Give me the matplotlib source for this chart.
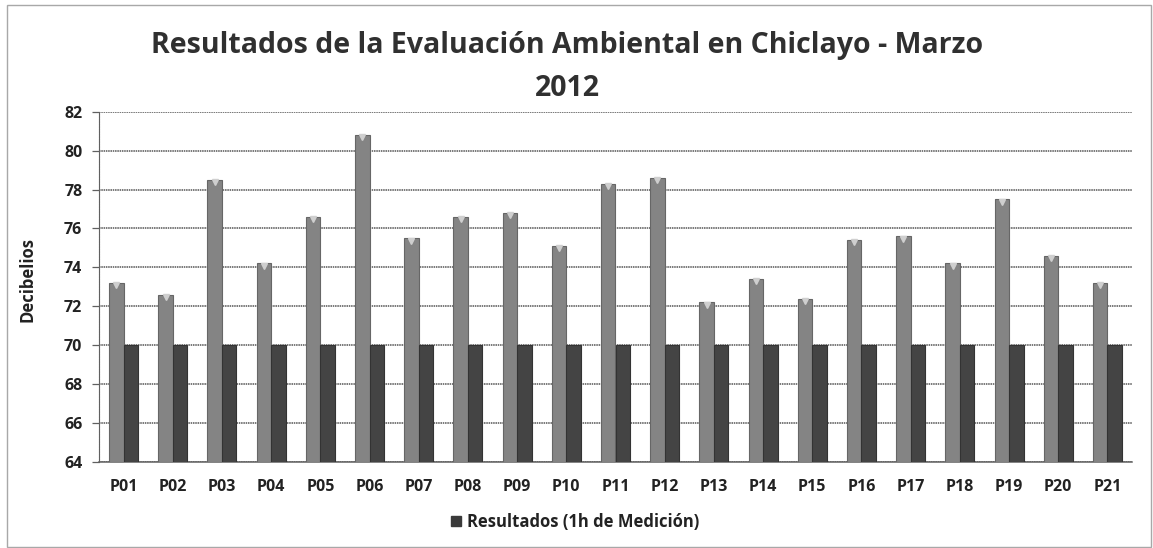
import matplotlib
matplotlib.use("Agg")
import matplotlib.pyplot as plt
import matplotlib.patches as patches
import numpy as np

# ---------- data ----------
puntos = ["P%02d" % i for i in range(1, 22)]
resultados = [73.2, 72.6, 78.5, 74.2, 76.6, 80.8, 75.5, 76.6, 76.8, 75.1, 78.3,
              78.6, 72.2, 73.4, 72.4, 75.4, 75.6, 74.2, 77.5, 74.6, 73.2]
limite = [70] * 21
y_ticks = [64, 66, 68, 70, 72, 74, 76, 78, 80, 82]

plt.rcParams["font.family"] = ["Open Sans", "DejaVu Sans"]

W, H = 1153, 548
fig = plt.figure(figsize=(W / 100, H / 100), dpi=100, facecolor="white")
ax = fig.add_axes([99 / W, (H - 462) / H, (1132 - 99) / W, (462 - 111.7) / H])

x = np.arange(len(puntos))
bw = 0.295
light = "#848484"
dark = "#444444"
ax.bar(x - bw / 2, [r - 64 for r in resultados], bw, bottom=64, color=light,
       edgecolor="#666666", linewidth=0.8, zorder=3, label="Resultados (1h de Medición)")
ax.bar(x + bw / 2, [l - 64 for l in limite], bw, bottom=64, color=dark,
       edgecolor="#333333", linewidth=0.8, zorder=3)

# light cap on the top of each result bar (3D look)
for xi, r in zip(x, resultados):
    ax.plot(xi - bw / 2, r - 0.12, marker="v", ms=4, color="#cfcfcf", zorder=4)

ax.set_xlim(-0.5, len(puntos) - 0.5)
ax.set_ylim(64, 82)
ax.set_yticks(y_ticks)
ax.set_xticks(x)
ax.set_xticklabels(puntos, fontsize=11.5, fontweight="bold", color="#222222")
ax.tick_params(axis="x", length=0, pad=12)
ax.tick_params(axis="y", length=5, width=0.9, color="#606060", pad=7,
               labelsize=11.5, labelcolor="#222222")
for lb in ax.get_yticklabels():
    lb.set_fontweight("bold")

ax.grid(axis="y", color="#555555", linewidth=1.1, linestyle=(0, (1, 0.5)), zorder=0)
for s in ["top", "right"]:
    ax.spines[s].set_visible(False)
ax.spines["left"].set_color("#606060")
ax.spines["bottom"].set_color("#606060")
ax.spines["bottom"].set_linewidth(1.1)
ax.spines["left"].set_linestyle((0, (1, 0.5)))

ax.set_ylabel("Decibelios", fontsize=12, fontweight="bold", color="#222222")
ax.yaxis.set_label_coords(-(99 - 36) / (1132 - 99), 0.52)

fig.text(567 / W, 1 - 45 / H, "Resultados de la Evaluación Ambiental en Chiclayo - Marzo",
         ha="center", va="center", fontsize=20.5, fontweight="bold", color="#303030")
fig.text(567 / W, 1 - 88 / H, "2012", ha="center", va="center",
         fontsize=20.5, fontweight="bold", color="#303030")

leg = fig.legend(handles=[patches.Patch(facecolor="#3a3a3a", edgecolor="#3a3a3a")],
                 labels=["Resultados (1h de Medición)"], loc="center",
                 bbox_to_anchor=(575 / W, 1 - 522 / H), frameon=False,
                 prop={"size": 12, "weight": "bold"}, handlelength=0.6,
                 handleheight=0.6, handletextpad=0.4)
for t in leg.get_texts():
    t.set_color("#222222")

# chart border
fig.add_artist(patches.Rectangle((7 / W, 1 / H), (1151 - 7) / W, (542) / H,
                                 transform=fig.transFigure, fill=False,
                                 edgecolor="#a8a8a8", linewidth=1.0))

fig.savefig("out.png", dpi=100, facecolor="white")
